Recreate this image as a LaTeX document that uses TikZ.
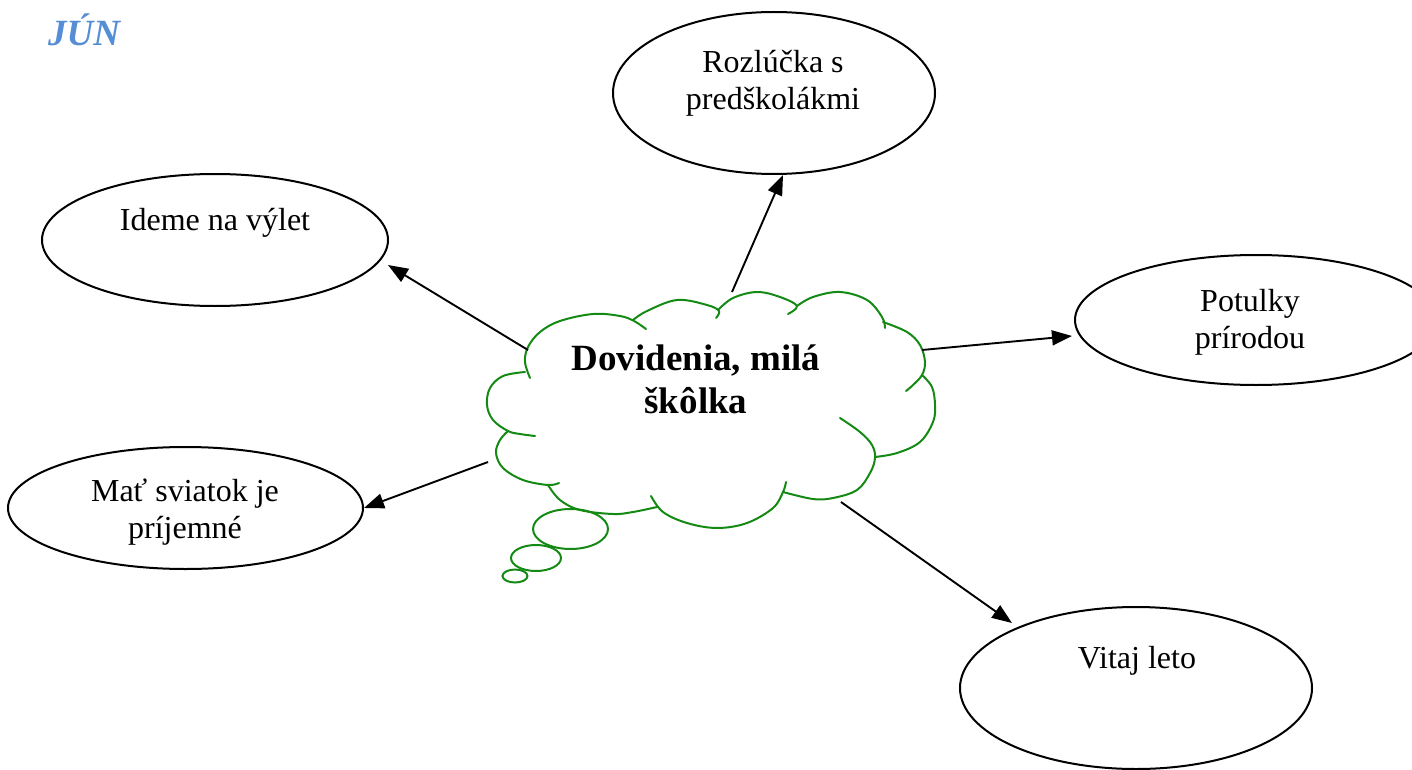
\documentclass[tikz,border=0pt]{standalone}
\usepackage{fontspec}
\setmainfont{Liberation Serif}
\usetikzlibrary{arrows.meta,calc,shapes.geometric}
\definecolor{cloudgreen}{RGB}{20,138,20}
\definecolor{titleblue}{RGB}{85,142,213}
\begin{document}
\begin{tikzpicture}[x=1pt,y=-1pt,
  oval/.style={draw=black, line width=2pt, ellipse, inner sep=0pt},
  lbl/.style={font=\fontsize{32}{37}\selectfont, align=center, anchor=base, inner sep=0pt},
  cloudtxt/.style={font=\bfseries\fontsize{37}{43}\selectfont, align=center, anchor=base, inner sep=0pt},
  titletxt/.style={font=\bfseries\itshape\fontsize{37}{43}\selectfont, text=titleblue, anchor=base west, inner sep=0pt},
  conn/.style={-{Triangle[length=20pt,width=15pt]}, line width=1.9pt},
  cloudline/.style={draw=cloudgreen, line width=2pt, line cap=round},
  bumpcurve/.style={smooth, tension=0.6}]
\useasboundingbox (0,0) rectangle (1412,770);
\clip (0,0) rectangle (1412,770);

% title
\node[titletxt] (title) at (48,46) {JÚN};

% ellipses
\node[oval, minimum width=322pt, minimum height=162pt] (roz) at (774,93) {};
\node[oval, minimum width=346pt, minimum height=132pt] (ideme) at (215,240) {};
\node[oval, minimum width=362pt, minimum height=130pt] (pot) at (1256,320) {};
\node[oval, minimum width=355pt, minimum height=122pt] (mat) at (185.5,508) {};
\node[oval, minimum width=352pt, minimum height=162pt] (vit) at (1136,688) {};

% ellipse texts (base anchor = baseline of the last line)
\node[lbl] (trozl) at (773,110) {Rozlúčka s\\predškolákmi};
\node[lbl] (tideme) at (215,230) {Ideme na výlet};
\node[lbl] (tpot) at (1250,348) {Potulky\\prírodou};
\node[lbl] (tmat) at (185,538) {Mať sviatok je\\príjemné};
\node[lbl] (tvit) at (1137,668) {Vitaj leto};

% cloud
\draw[cloudline] plot[bumpcurve] coordinates {(530,378) (525,362) (528,347) (540,332) (560,321) (593,314) (620,316) (634,321) (646,329)};
\draw[cloudline] plot[bumpcurve] coordinates {(633,320) (647,311) (677,300) (707,305) (719,311) (716,318)};
\draw[cloudline] plot[bumpcurve] coordinates {(718,310) (733,298) (757,292) (780,297) (797,306) (788,314)};
\draw[cloudline] plot[bumpcurve] coordinates {(797,306) (813,297) (840,292) (867,300) (882,317) (885,328)};
\draw[cloudline] plot[bumpcurve] coordinates {(883,322) (907,332) (920,345) (925,362) (922,375) (913,385) (906,391)};
\draw[cloudline] plot[bumpcurve] coordinates {(922,375) (932,387) (935,405) (933,422) (920,442) (897,453) (875,457)};
\draw[cloudline] plot[bumpcurve] coordinates {(840,418) (860,432) (872,445) (875,458) (870,473) (857,490) (833,498) (813,499) (783,492)};
\draw[cloudline] plot[bumpcurve] coordinates {(786,482) (783,492) (773,508) (747,523) (717,528) (687,523) (663,512) (651,496)};
\draw[cloudline] plot[bumpcurve] coordinates {(657,507) (633,512) (613,514) (580,510) (560,500) (548,485)};
\draw[cloudline] plot[bumpcurve] coordinates {(559,483) (548,485) (523,480) (503,468) (496,453) (500,440) (508,431)};
\draw[cloudline] plot[bumpcurve] coordinates {(535,436) (520,434) (508,431) (493,420) (487,405) (490,388) (503,376) (525,372)};
% thought bubbles
\draw[cloudline] (570.5,529) ellipse[x radius=37.5, y radius=20];
\draw[cloudline] (536,558) ellipse[x radius=25, y radius=13];
\draw[cloudline] (515,576) ellipse[x radius=12.5, y radius=6.5];

\node[cloudtxt] (tcloud) at (696,413) {Dovidenia, milá\\škôlka};

% connector start points on the cloud
\coordinate (c1) at (732,292);
\coordinate (c2) at (528,350);
\coordinate (c3) at (922,350);
\coordinate (c4) at (488,462);
\coordinate (c5) at (841,502);

\draw[conn] (c1) -- ($(roz.center)+(9,82)$);
\draw[conn] (c2) -- ($(ideme.center)+(173,25)$);
\draw[conn] (c3) -- ($(pot.center)+(-184,16)$);
\draw[conn] (c4) -- (mat.east);
\draw[conn] (c5) -- ($(vit.center)+(-124,-65)$);
\end{tikzpicture}
\end{document}
